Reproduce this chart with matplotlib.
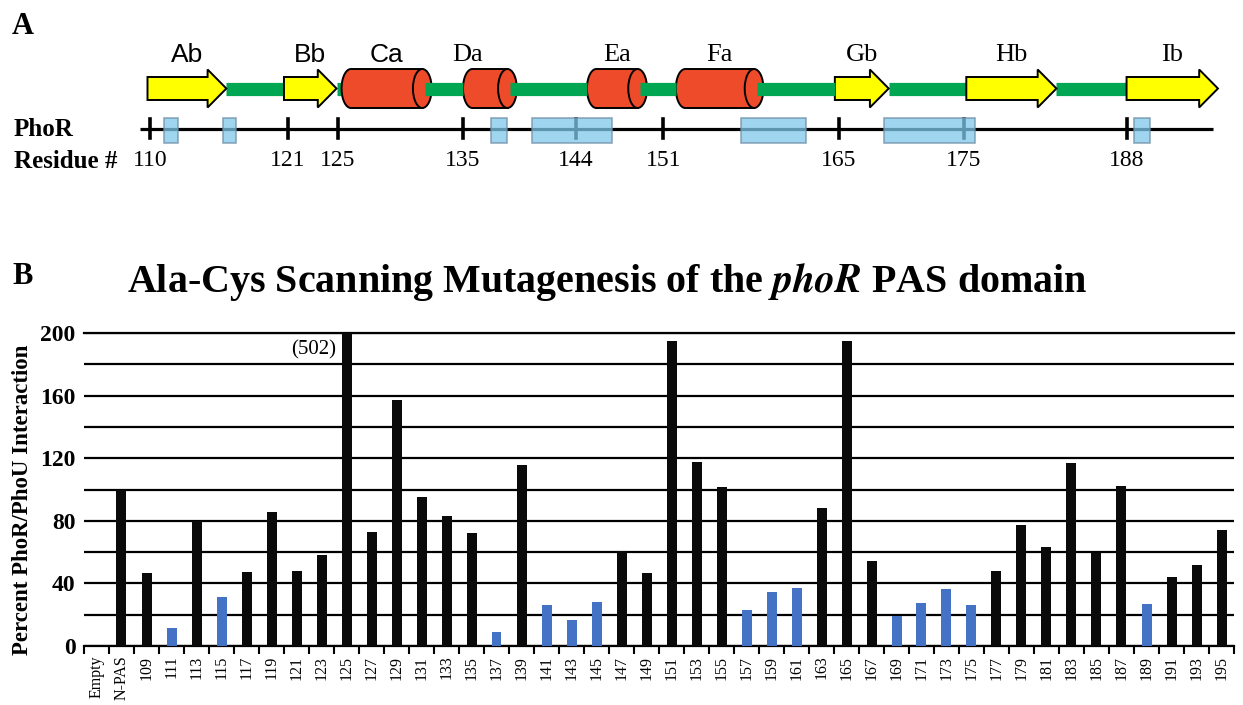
import matplotlib
matplotlib.use("Agg")
import matplotlib.pyplot as plt
from matplotlib.patches import Polygon, Ellipse, Rectangle
import numpy as np

SERIF = "Liberation Serif"
SANS = "Liberation Sans"
plt.rcParams["mathtext.fontset"] = "stix"

# --- panel A: secondary structure of the PAS domain ---
ss_names = ["Ab", "Bb", "Ca", "Da", "Ea", "Fa", "Gb", "Hb", "Ib"]
ss_start = [109.8, 120.7, 125.3, 135.0, 144.9, 152.0, 164.7, 175.2, 188.0]
ss_end = [116.1, 124.9, 132.5, 139.3, 149.7, 159.0, 169.0, 182.4, 195.3]

residue_ticks = [110, 121, 125, 135, 144, 151, 165, 175, 188]
residue_first, residue_last = 109.2, 194.9

# regions where substitutions lowered the interaction
box_start = [111.1, 115.8, 137.2, 140.5, 157.2, 168.6, 188.6]
box_end = [112.2, 116.9, 138.5, 146.9, 162.4, 175.9, 189.9]

# --- panel B: scanning mutagenesis ---
residues = list(range(109, 196, 2))
labels = ["Empty", "N-PAS"] + [str(r) for r in residues]
values = [0, 100,
          46.5, 11.3, 80, 31, 47.5, 85.7, 48.2, 58.2, 502, 73, 157,
          95.5, 83, 72.5, 9.2, 115.4, 26.2, 16.6, 28.4, 60.8, 46.9,
          194.7, 117.3, 101.9, 22.8, 34.5, 37.3, 88.1, 194.7, 54.6, 19.4,
          27.5, 36.5, 26, 48, 77.4, 63.3, 116.8, 59.7, 102.1, 26.9,
          44.3, 51.6, 74.2]
blue_residues = [111, 115, 137, 141, 143, 145, 157, 159, 161,
                 169, 171, 173, 175, 189]

fig = plt.figure(figsize=(12.43, 7.05), dpi=100)

# panel A axes in residue units (x) and pixels from the top (y)
px_per_res = 12.52
axa = fig.add_axes([0, 1 - 200 / 705, 1, 200 / 705])
axa.set_xlim(110 - 150 / px_per_res, 110 + (1243 - 150) / px_per_res)
axa.set_ylim(200, 0)
axa.axis("off")

yc = 88.5
green = "#00A651"
red = "#EE4B2B"
cap_w = 1.5
head_len = 1.5

exits = []
for name, s, e in zip(ss_names, ss_start, ss_end):
    if name.endswith("b"):
        hb = e - head_len
        pts = [(s, yc - 11.5), (hb, yc - 11.5), (hb, yc - 19), (e, yc),
               (hb, yc + 19), (hb, yc + 11.5), (s, yc + 11.5)]
        axa.add_patch(Polygon(pts, closed=True, fc="#FFFF00", ec="black",
                              lw=1.4, zorder=3))
        exits.append(e)
    else:
        # cylinder: rounded left end, body, elliptical cap on the right
        t = np.linspace(np.pi / 2, 3 * np.pi / 2, 30)
        left = [(s + cap_w / 2 + cap_w / 2 * np.cos(a), yc - 19.5 * np.sin(a))
                for a in t]
        body = left + [(e - cap_w / 2, yc + 19.5), (e - cap_w / 2, yc - 19.5)]
        axa.add_patch(Polygon(body, closed=True, fc=red, ec="black",
                              lw=1.4, zorder=3))
        axa.add_patch(Ellipse((e - cap_w / 2, yc), cap_w, 39, fc=red,
                              ec="black", lw=1.4, zorder=3))
        exits.append(e - cap_w * 0.35)
    xl = s + (e - s) / 2
    if name == "Da":
        xl -= 1.8
    fam = SANS if name in ("Ab", "Bb", "Ca") else SERIF
    axa.text(xl, 55, name, ha="center", va="center", fontsize=19,
             family=fam)

# connecting loops
for i in range(len(ss_names) - 1):
    z = 4 if not ss_names[i].endswith("b") else 1
    axa.plot([exits[i], ss_start[i + 1]], [yc, yc], color=green, lw=9.5,
             solid_capstyle="butt", zorder=z)

# residue number line
axa.plot([residue_first, residue_last], [128.7, 128.7], color="black",
         lw=2.3, solid_capstyle="butt", zorder=1)
for r in residue_ticks:
    axa.plot([r, r], [119, 137.5], color="black", lw=2.6, zorder=1)
    axa.text(r, 161, str(r), ha="center", va="center", fontsize=17,
             family=SERIF)
for s, e in zip(box_start, box_end):
    axa.add_patch(Rectangle((s, 118), e - s, 25, fc="#7FC8EA", ec="#6E8FA6",
                            lw=1.2, alpha=0.75, zorder=2))

x_left = axa.get_xlim()[0] + 14 / px_per_res
axa.text(x_left, 130, "PhoR", ha="left", va="center", fontsize=18,
         fontweight="bold", family=SERIF)
axa.text(x_left, 161, "Residue #", ha="left", va="center", fontsize=18,
         fontweight="bold", family=SERIF)

fig.text(12 / 1243, 1 - 26 / 705, "A", ha="left", va="center", fontsize=22,
         fontweight="bold", family=SERIF)
fig.text(12 / 1243, 1 - 276 / 705, "B", ha="left", va="center", fontsize=22,
         fontweight="bold", family=SERIF)
fig.text(607 / 1243, 1 - 282 / 705,
         r"Ala-Cys Scanning Mutagenesis of the $\mathbfit{phoR}$ PAS domain",
         ha="center", va="center", fontsize=28.8, fontweight="bold",
         family=SERIF)

# panel B bar chart
ax = fig.add_axes([84 / 1243, 59 / 705, 1150 / 1243, 313 / 705])
x = np.arange(len(labels))
blue_labels = [str(b) for b in blue_residues]
colors = ["#4472C4" if l in blue_labels else "#0A0A0A" for l in labels]
ax.bar(x, values, width=0.4, color=colors, zorder=3)
ax.set_xlim(-0.5, len(labels) - 0.5)
ax.set_ylim(0, 200)

ax.set_yticks(range(0, 201, 40))
ax.set_yticks(range(20, 201, 40), minor=True)
ax.yaxis.grid(True, which="both", color="black", lw=1.6)
ax.axhline(200, color="black", lw=1.6, clip_on=False)
ax.tick_params(axis="y", which="both", length=0, pad=6)
for t in ax.get_yticklabels():
    t.set_fontsize(17)
    t.set_fontweight("bold")
    t.set_family(SERIF)

ax.set_xticks(x)
ax.set_xticklabels(labels, rotation=90, fontsize=11.5, family=SERIF)
ax.set_xticks(np.arange(-0.5, len(labels), 1), minor=True)
ax.tick_params(axis="x", which="major", length=0, pad=7)
ax.tick_params(axis="x", which="minor", length=6, width=1.5, direction="out")

for side in ("left", "right", "top"):
    ax.spines[side].set_visible(False)
ax.spines["bottom"].set_linewidth(1.6)

ax.set_ylabel("Percent PhoR/PhoU Interaction", fontsize=16.5,
              fontweight="bold", family=SERIF)
ax.yaxis.set_label_coords(-0.0443, 0.468)
ax.text(9.6, 189, "(502)", ha="right", va="center", fontsize=15,
        family=SERIF, zorder=4)

fig.savefig("out.png", dpi=100)
